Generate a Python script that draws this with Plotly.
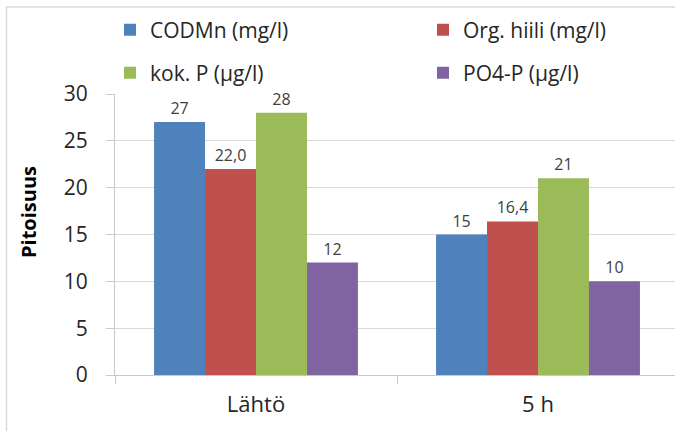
import plotly.graph_objects as go

categories = ["Lähtö", "5 h"]
series_names = ["CODMn (mg/l)", "Org. hiili (mg/l)", "kok. P (µg/l)", "PO4-P (µg/l)"]
codmn = [27, 15]
org_hiili = [22.0, 16.4]
kok_p = [28, 21]
po4_p = [12, 10]
decimals = [0, 1, 0, 0]
colors = ["#4F81BD", "#C0504D", "#9BBB59", "#8064A2"]
y_ticks = [0, 5, 10, 15, 20, 25, 30]

FONT = "Open Sans"
W, H = 675, 431
L, R, T, B = 115, 0, 94, 56

# legend text start (px) and row centre (px) for each series
legend_pos = [(150, 30), (463, 30), (150, 73), (463, 73)]
legend_keys = ["legend", "legend2", "legend3", "legend4"]

fig = go.Figure()
for name, vals, dec, col, lg in zip(series_names, [codmn, org_hiili, kok_p, po4_p], decimals, colors, legend_keys):
    labels = [(f"{v:.{dec}f}").replace(".", ",") for v in vals]
    fig.add_trace(go.Bar(
        x=categories, y=vals, name=name, marker=dict(color=col, line=dict(width=0)),
        text=labels, textposition="outside", cliponaxis=False,
        textfont=dict(family=FONT, size=16, color="#404040"),
        legend=lg, showlegend=True,
    ))

pw = W - L - R
ph = H - T - B
def px2x(px):
    return (px - L) / pw
def py2y(py):
    return (H - B - py) / ph

legends = {}
for key, (tx, cy) in zip(legend_keys, legend_pos):
    legends[key] = dict(
        orientation="h", xref="container", yref="container",
        x=(tx - 40) / W, y=1 - cy / H, xanchor="left", yanchor="middle",
        font=dict(family=FONT, size=21, color="#262626"), bgcolor="rgba(0,0,0,0)",
    )

fig.update_layout(
    width=W, height=H,
    showlegend=True,
    margin=dict(l=L, r=R, t=T, b=B, autoexpand=False),
    paper_bgcolor="white", plot_bgcolor="white",
    barmode="group", bargap=0.277, bargroupgap=0,
    font=dict(family=FONT, color="#262626"),
    xaxis=dict(
        range=[-0.5, 1.4858], showline=True, linecolor="#c8c8c8", linewidth=1,
        ticks="outside", tickson="boundaries", ticklen=8, tickcolor="#c8c8c8",
        tickfont=dict(family=FONT, size=22, color="#262626"),
        ticklabelstandoff=10, showgrid=False, fixedrange=True,
    ),
    yaxis=dict(
        range=[0, 30], tickvals=y_ticks, showline=True, linecolor="#c8c8c8", linewidth=1,
        ticks="outside", ticklen=8, tickcolor="#c8c8c8",
        tickfont=dict(family=FONT, size=21, color="#262626"),
        ticklabelstandoff=14, showgrid=True, gridcolor="#d9d9d9", gridwidth=1,
        zeroline=False, fixedrange=True,
    ),
    annotations=[dict(
        text="<b>Pitoisuus</b>", textangle=-90, xref="paper", yref="paper",
        x=px2x(28), y=py2y(212), xanchor="center", yanchor="middle", showarrow=False,
        font=dict(family=FONT, size=20, color="#000000"),
    )],
    shapes=[
        dict(type="line", xref="paper", yref="paper", x0=px2x(6), x1=px2x(676), y0=py2y(7), y1=py2y(7),
             line=dict(color="#d9d9d9", width=1.5)),
        dict(type="line", xref="paper", yref="paper", x0=px2x(6.5), x1=px2x(6.5), y0=py2y(7), y1=py2y(432),
             line=dict(color="#d9d9d9", width=1.5)),
    ],
    **legends,
)

fig.write_html("out.html")
